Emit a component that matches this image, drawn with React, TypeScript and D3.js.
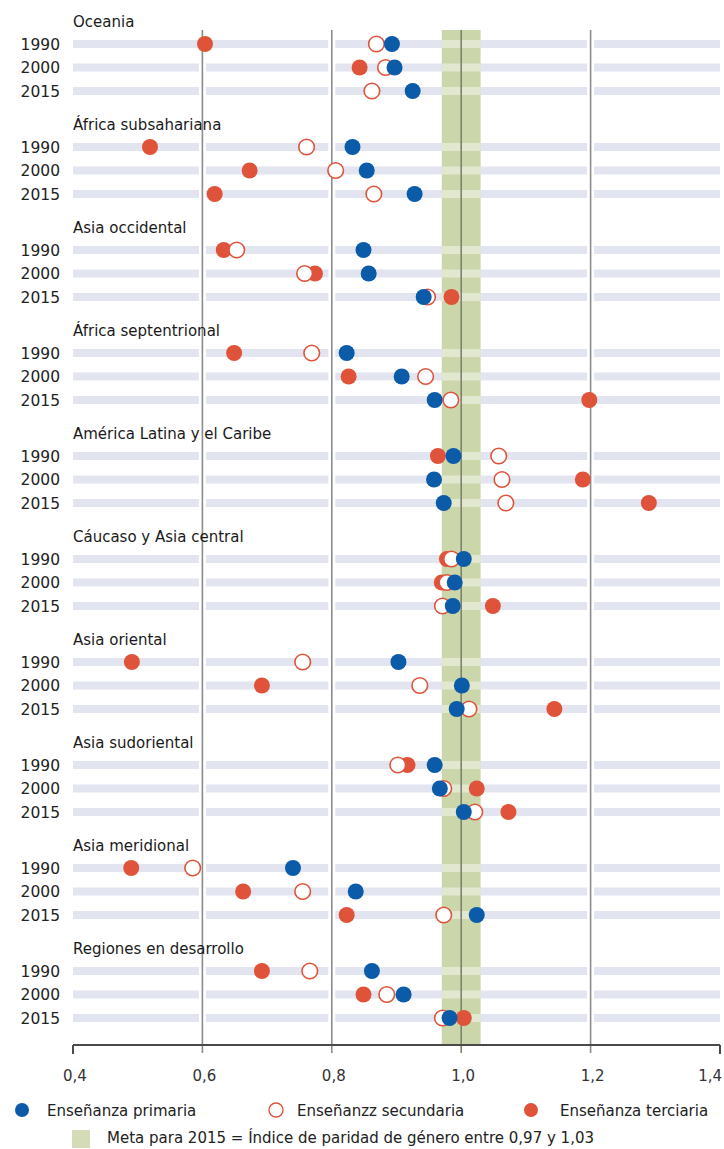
import * as d3 from 'd3';
import React, { useRef, useEffect } from 'react';

const regions = [
  "Oceania",
  "África subsahariana",
  "Asia occidental",
  "África septentrional",
  "América Latina y el Caribe",
  "Cáucaso y Asia central",
  "Asia oriental",
  "Asia sudoriental",
  "Asia meridional",
  "Regiones en desarrollo",
];
const years = ["1990", "2000", "2015"];

// indice de paridad por region, [1990, 2000, 2015]
const primaria = [
  [0.893, 0.897, 0.925],
  [0.832, 0.854, 0.928],
  [0.849, 0.857, 0.942],
  [0.823, 0.908, 0.959],
  [0.988, 0.958, 0.973],
  [1.004, 0.99, 0.987],
  [0.903, 1.001, 0.993],
  [0.959, 0.967, 1.004],
  [0.74, 0.837, 1.024],
  [0.862, 0.911, 0.982],
];
const secundaria = [
  [0.869, 0.883, 0.862],
  [0.761, 0.806, 0.865],
  [0.653, 0.758, 0.948],
  [0.769, 0.945, 0.984],
  [1.058, 1.063, 1.069],
  [0.985, 0.978, 0.971],
  [0.755, 0.936, 1.012],
  [0.902, 0.973, 1.021],
  [0.585, 0.755, 0.973],
  [0.766, 0.885, 0.971],
];
const terciaria = [
  [0.604, 0.843, null],
  [0.519, 0.673, 0.619],
  [0.633, 0.774, 0.985],
  [0.649, 0.826, 1.198],
  [0.964, 1.188, 1.29],
  [0.978, 0.97, 1.049],
  [0.491, 0.692, 1.144],
  [0.917, 1.024, 1.073],
  [0.49, 0.663, 0.823],
  [0.692, 0.849, 1.004],
];
const ticks = [0.4, 0.6, 0.8, 1.0, 1.2, 1.4];
const meta = [0.97, 1.03];
const legendLabels = ["Enseñanza primaria", "Enseñanzz secundaria", "Enseñanza terciaria"];
const metaLabel = "Meta para 2015 = Índice de paridad de género entre 0,97 y 1,03";

const BLUE = "#0b5ba8";
const RED = "#e0533b";
const FONT = "'DejaVu Sans', sans-serif";

function App() {
  const ref = useRef(null);

  useEffect(() => {
    const top = 30;
    const axisY = 1045;
    const svg = d3.select(ref.current);
    svg.selectAll("*").remove();

    const x = d3.scaleLinear().domain([0.4, 1.4]).range([73, 720]);
    const rowY = (g, j) => 44 + g * 103 + j * 23.5;

    const rows = [];
    regions.forEach((r, g) => {
      years.forEach((yr, j) => {
        rows.push({ g, j, y: rowY(g, j), p: primaria[g][j], s: secundaria[g][j], t: terciaria[g][j] });
      });
    });

    // franjas grises
    svg.append("g")
      .selectAll("rect")
      .data(rows)
      .enter().append("rect")
      .attr("x", x(0.4))
      .attr("y", d => d.y - 4)
      .attr("width", x(1.4) - x(0.4))
      .attr("height", 8)
      .attr("fill", "#e2e5ef");

    // meta
    svg.append("rect")
      .attr("x", x(meta[0]))
      .attr("y", top)
      .attr("width", x(meta[1]) - x(meta[0]))
      .attr("height", axisY - top)
      .attr("fill", "#cbd6aa");
    svg.append("g")
      .selectAll("rect")
      .data(rows)
      .enter().append("rect")
      .attr("x", x(meta[0]))
      .attr("y", d => d.y - 4)
      .attr("width", x(meta[1]) - x(meta[0]))
      .attr("height", 8)
      .attr("fill", "#ffffff")
      .attr("opacity", 0.45);

    // lineas verticales
    const grid = ticks.filter(t => t > 0.4 && t < 1.4);
    svg.append("g")
      .selectAll("line")
      .data(grid.filter(t => t !== 1.0))
      .enter().append("line")
      .attr("x1", d => x(d)).attr("x2", d => x(d))
      .attr("y1", top).attr("y2", axisY)
      .attr("stroke", "#fff")
      .attr("stroke-width", 7);
    svg.append("g")
      .selectAll("line")
      .data(grid)
      .enter().append("line")
      .attr("x1", d => x(d)).attr("x2", d => x(d))
      .attr("y1", top).attr("y2", axisY + 8)
      .attr("stroke", d => d === 1.0 ? "#7d8370" : "#8c8c8c")
      .attr("stroke-width", 1.6);

    // eje
    svg.append("line")
      .attr("x1", x(0.4)).attr("x2", x(1.4))
      .attr("y1", axisY).attr("y2", axisY)
      .attr("stroke", "#4a4a4a").attr("stroke-width", 2);
    svg.append("g")
      .selectAll("line")
      .data([0.4, 1.4])
      .enter().append("line")
      .attr("x1", d => x(d)).attr("x2", d => x(d))
      .attr("y1", axisY).attr("y2", axisY + 9)
      .attr("stroke", "#4a4a4a").attr("stroke-width", 2);
    svg.append("g")
      .selectAll("text")
      .data(ticks)
      .enter().append("text")
      .attr("x", d => d === 1.4 ? x(d) + 2 : x(d) + 2)
      .attr("y", axisY + 36)
      .attr("text-anchor", d => d === 1.4 ? "end" : "middle")
      .attr("font-family", FONT)
      .attr("font-size", 15)
      .attr("fill", "#333")
      .text(d => d3.format(".1f")(d).replace(".", ","));

    // titulos y años
    svg.append("g")
      .selectAll("text")
      .data(regions)
      .enter().append("text")
      .attr("x", x(0.4))
      .attr("y", (d, g) => rowY(g, 0) - 17)
      .attr("font-family", FONT)
      .attr("font-size", 15)
      .attr("fill", "#1a1a1a")
      .text(d => d);
    svg.append("g")
      .selectAll("text")
      .data(rows)
      .enter().append("text")
      .attr("x", 60)
      .attr("y", d => d.y + 5.5)
      .attr("text-anchor", "end")
      .attr("font-family", FONT)
      .attr("font-size", 15.5)
      .attr("fill", "#222")
      .text(d => years[d.j]);

    // puntos
    const dots = svg.append("g");
    dots.selectAll("circle.t")
      .data(rows.filter(d => d.t != null))
      .enter().append("circle")
      .attr("cx", d => x(d.t)).attr("cy", d => d.y)
      .attr("r", 8).attr("fill", RED);
    dots.selectAll("circle.s")
      .data(rows)
      .enter().append("circle")
      .attr("cx", d => x(d.s)).attr("cy", d => d.y)
      .attr("r", 7.8).attr("fill", "#fff")
      .attr("stroke", RED).attr("stroke-width", 1.6);
    dots.selectAll("circle.p")
      .data(rows)
      .enter().append("circle")
      .attr("cx", d => x(d.p)).attr("cy", d => d.y)
      .attr("r", 8).attr("fill", BLUE);

    // leyenda
    const ly = 1110;
    const leg = svg.append("g");
    const items = [
      { cx: 22, tx: 47, fill: BLUE, stroke: "none" },
      { cx: 276, tx: 297, fill: "#fff", stroke: RED },
      { cx: 531, tx: 560, fill: RED, stroke: "none" },
    ];
    items.forEach((it, i) => {
      leg.append("circle")
        .attr("cx", it.cx).attr("cy", ly).attr("r", 7)
        .attr("fill", it.fill).attr("stroke", it.stroke).attr("stroke-width", 1.4);
      leg.append("text")
        .attr("x", it.tx).attr("y", ly + 5.5)
        .attr("font-family", FONT).attr("font-size", 15)
        .attr("fill", "#222")
        .text(legendLabels[i]);
    });
    leg.append("rect")
      .attr("x", 72).attr("y", 1130).attr("width", 18).attr("height", 18)
      .attr("fill", "#d3dcb6");
    leg.append("text")
      .attr("x", 107).attr("y", 1143)
      .attr("font-family", FONT).attr("font-size", 15)
      .attr("fill", "#222")
      .text(metaLabel);
  }, []);

  return (
    <svg ref={ref} width={724} height={1149}
      style={{ position: "absolute", left: 0, top: 0, background: "#fff" }} />
  );
}

export default App;
